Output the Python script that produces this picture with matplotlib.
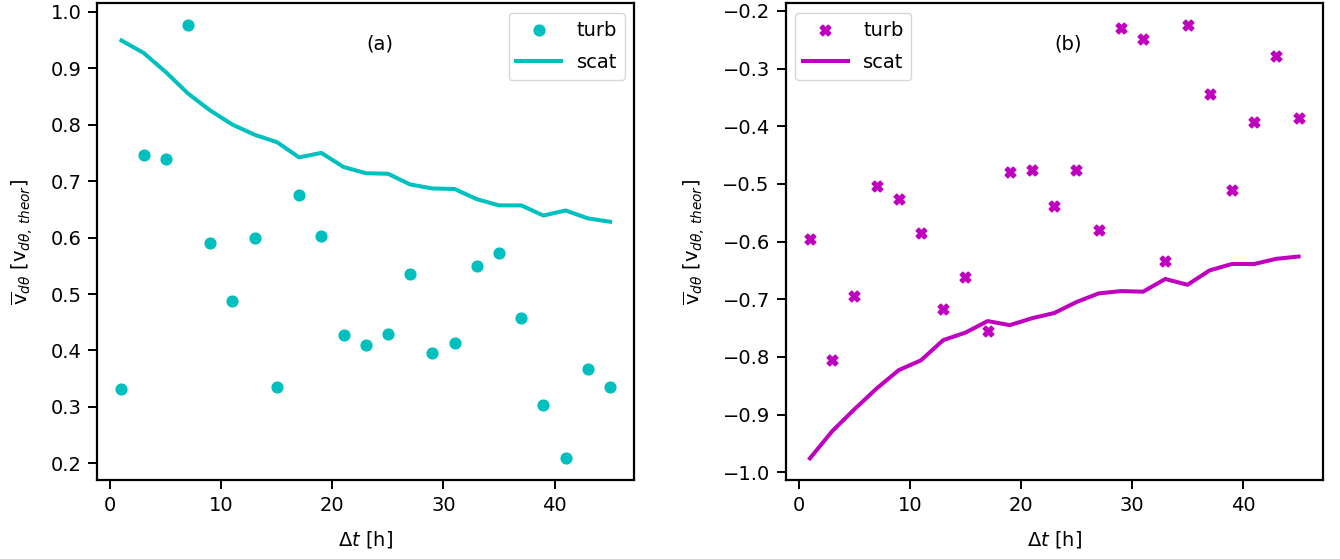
import numpy as np
import matplotlib
matplotlib.use("Agg")
import matplotlib.pyplot as plt

#=== Dados ===
dt = np.arange(1, 46, 2)  # Delta t [h]

turb_a = [0.331, 0.747, 0.740, 0.977, 0.591, 0.488, 0.600, 0.336, 0.676, 0.603,
          0.427, 0.410, 0.430, 0.536, 0.395, 0.414, 0.550, 0.572, 0.457, 0.303,
          0.209, 0.368, 0.336]
scat_a = [0.949, 0.927, 0.893, 0.855, 0.825, 0.800, 0.782, 0.769, 0.742, 0.750,
          0.725, 0.714, 0.713, 0.694, 0.687, 0.686, 0.668, 0.657, 0.657, 0.639,
          0.648, 0.634, 0.628]

turb_b = [-0.596, -0.806, -0.694, -0.504, -0.526, -0.585, -0.717, -0.661, -0.755, -0.480,
          -0.476, -0.539, -0.476, -0.580, -0.229, -0.249, -0.634, -0.224, -0.345, -0.511,
          -0.393, -0.279, -0.385]
scat_b = [-0.976, -0.929, -0.891, -0.855, -0.823, -0.806, -0.771, -0.758, -0.738, -0.745,
          -0.733, -0.724, -0.705, -0.690, -0.686, -0.687, -0.665, -0.675, -0.650, -0.639,
          -0.639, -0.630, -0.626]

#=== Figura ===
plt.rcParams['font.size'] = 14
fig, (ax1, ax2) = plt.subplots(1, 2, figsize=(13.4, 5.59), dpi=100)
fig.subplots_adjust(left=0.0724, right=0.9873, bottom=0.1413, top=0.9946, wspace=0.281)

ylab = r'$\overline{\mathrm{v}}_{d\theta}\ [\mathrm{v}_{d\theta,\,theor}]$'

ax1.scatter(dt, turb_a, color='c', s=60, label='turb')
ax1.plot(dt, scat_a, color='c', lw=2.9, label='scat')
ax1.text(0.526, 0.914, '(a)', transform=ax1.transAxes, ha='center', va='center')
ax1.legend(loc='upper right', handlelength=2.3, labelspacing=0.7)

ax2.scatter(dt, turb_b, color='m', marker='X', s=60, label='turb')
ax2.plot(dt, scat_b, color='m', lw=2.9, label='scat')
ax2.text(0.526, 0.914, '(b)', transform=ax2.transAxes, ha='center', va='center')
ax2.legend(loc='upper left', handlelength=2.3, labelspacing=0.7)

for ax in (ax1, ax2):
    ax.set_xlabel(r'$\Delta t$ [h]', labelpad=10)
    ax.set_ylabel(ylab, labelpad=11)
    for s in ax.spines.values():
        s.set_linewidth(1.6)
    ax.tick_params(width=1.4, length=6.3, pad=5)

fig.savefig('out.png', dpi=100)
